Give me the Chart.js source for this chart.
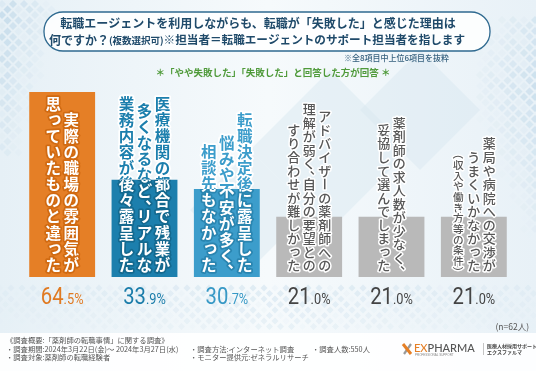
<!DOCTYPE html>
<html lang="ja">
<head>
<meta charset="utf-8">
<script src="https://cdn.jsdelivr.net/npm/chart.js@4/dist/chart.umd.min.js"></script>
<style>
html,body{margin:0;padding:0;background:#fff;overflow:hidden;}
#wrap{width:536px;height:371px;}
</style>
</head>
<body>
<div id="wrap"><canvas id="c" width="536" height="371"></canvas></div>
<script>
// ---- data ----
const categories = [
  ["実際の職場の雰囲気が", "思っていたものと違った"],
  ["医療機関の都合で残業が", "多くなるなど、リアルな", "業務内容が後々露呈した"],
  ["転職決定後に露呈した", "悩みや不安が多く、", "相談先もなかった"],
  ["アドバイザーの薬剤師への", "理解が弱く、自分の要望との", "すり合わせが難しかった"],
  ["薬剤師の求人数が少なく、", "妥協して選んでしまった"],
  ["薬局や病院への交渉が", "うまくいかなかった", "（収入や働き方等の条件）"]
];
const values = [64.5, 33.9, 30.7, 21.0, 21.0, 21.0];
const titleLine1 = "転職エージェントを利用しながらも、転職が「失敗した」と感じた理由は";
const titleLine2a = "何ですか？";
const titleLine2b = "(複数選択可)";
const titleLine2c = "※担当者＝転職エージェントのサポート担当者を指します";
const noteText = "※全8項目中上位6項目を抜粋";
const subText = "＊「やや失敗した」「失敗した」と回答した方が回答 ＊";
const nText = "(n=62人)";
const footerCol1 = ["《調査概要:「薬剤師の転職事情」に関する調査》", "・調査期間:2024年3月22日(金)～ 2024年3月27日(水)", "・調査対象:薬剤師の転職経験者"];
const footerCol2 = ["・調査方法:インターネット調査", "・モニター提供元:ゼネラルリサーチ"];
const footerCol3 = ["・調査人数:550人"];

// ---- styles ----
const barColors = ["#E57F26", "#1C7FAD", "#3C9DCB", "#B9B9B9", "#B9B9B9", "#B9B9B9"];
const outlineColors = ["#D06A12", "#14698F", "#2A85B0", null, null, null];
const pctColors = ["#E07A22", "#1C7DAA", "#3899C6", "#444444", "#444444", "#444444"];
const labelSizes = [15.5, 15.5, 15.5, 13, 13, 13];

const JP = '"Noto Sans CJK JP", "Noto Sans", sans-serif';
const ROT = new Set(['ー', '（', '）', '～', '〜', '－']);
const HALF = new Set(['、', '。', '（', '）']);
const SMALL = new Set('っゃゅょぁぃぅぇぉッャュョァィゥェォ'.split(''));
const PUNCT = new Set(['、', '。']);

function colHeight(str, pitch) {
  let h = 0;
  for (const ch of str) h += HALF.has(ch) ? pitch * 0.55 : pitch;
  return h;
}
function drawColumn(ctx, str, x, yBottom, fs, pitch) {
  let y = yBottom - colHeight(str, pitch);
  for (const ch of str) {
    const ch_h = HALF.has(ch) ? pitch * 0.55 : pitch;
    const cy = y + ch_h / 2;
    ctx.save();
    ctx.translate(x, cy);
    if (ROT.has(ch)) {
      if (ch === '（') ctx.translate(0, -0.25 * fs);
      if (ch === '）') ctx.translate(0, 0.25 * fs);
      ctx.rotate(Math.PI / 2);
    } else if (PUNCT.has(ch)) {
      ctx.translate(0.55 * fs, -0.4 * fs);
    } else if (SMALL.has(ch)) {
      ctx.translate(0.1 * fs, -0.1 * fs);
    }
    ctx.strokeText(ch, 0, 0);
    ctx.fillText(ch, 0, 0);
    ctx.restore();
    y += ch_h;
  }
}
function drawLabelBlock(ctx, cols, cx, yBottom, fs) {
  const n = cols.length;
  const sp = fs + 2.5;
  cols.forEach((s, k) => {
    const x = cx + ((n - 1) / 2 - k) * sp;
    const small = s.startsWith('（');
    const f = small ? fs * 0.82 : fs;
    ctx.font = (small ? '500 ' : (fs > 14 ? '700 ' : '500 ')) + f + 'px ' + JP;
    drawColumn(ctx, s, x, yBottom, f, small ? f * 1.0 : f * 1.04);
  });
}
function roundRect(ctx, x, y, w, h, r) {
  ctx.beginPath();
  ctx.moveTo(x + r, y);
  ctx.lineTo(x + w - r, y);
  ctx.arc(x + w - r, y + r, r, -Math.PI / 2, 0);
  ctx.lineTo(x + w, y + h - r);
  ctx.arc(x + w - r, y + h - r, r, 0, Math.PI / 2);
  ctx.lineTo(x + r, y + h);
  ctx.arc(x + r, y + h - r, r, Math.PI / 2, Math.PI);
  ctx.lineTo(x, y + r);
  ctx.arc(x + r, y + r, r, Math.PI, Math.PI * 1.5);
  ctx.closePath();
}
function diamonds(ctx, x0, y0, cols, rows, step, size, alphaFn) {
  for (let i = 0; i < cols; i++) for (let j = 0; j < rows; j++) {
    const a = alphaFn(i, j);
    if (a <= 0) continue;
    const x = x0 + i * step + (j % 2 ? step / 2 : 0), y = y0 + j * step / 2;
    ctx.fillStyle = 'rgba(190,215,232,' + a + ')';
    ctx.beginPath();
    ctx.moveTo(x, y - size); ctx.lineTo(x + size, y); ctx.lineTo(x, y + size); ctx.lineTo(x - size, y);
    ctx.closePath(); ctx.fill();
  }
}

const decoPlugin = {
  id: 'deco',
  beforeDraw(chart) {
    const ctx = chart.ctx, W = chart.width, H = chart.height;
    ctx.save();
    const g = ctx.createLinearGradient(0, 0, W, 0);
    g.addColorStop(0, '#e6f0f6'); g.addColorStop(0.5, '#f6fafc'); g.addColorStop(1, '#e8f1f7');
    ctx.fillStyle = g; ctx.fillRect(0, 0, W, H);
    ctx.fillStyle = 'rgba(215,230,240,0.45)';
    [[330, 150, 80], [250, 210, 60], [420, 110, 60]].forEach(([x, y, s]) => {
      ctx.beginPath(); ctx.moveTo(x, y - s); ctx.lineTo(x + s, y); ctx.lineTo(x, y + s); ctx.lineTo(x - s, y); ctx.closePath(); ctx.fill();
    });
    diamonds(ctx, 2, 4, 5, 28, 11, 4, (i, j) => Math.max(0, 0.75 - i * 0.15 - j * 0.02) * (((i * 3 + j * 5) % 4) ? 1 : 0.3));
    diamonds(ctx, 480, 20, 6, 40, 11, 4, (i, j) => Math.max(0, 0.15 + i * 0.1 - Math.abs(j - 12) * 0.02) * (((i * 5 + j * 3) % 4) ? 1 : 0.3));
    diamonds(ctx, 0, 288, 50, 8, 11, 3.5, (i, j) => Math.max(0, 0.5 - Math.abs(i - 25) * 0.012 - j * 0.03) * (((i * 7 + j * 3) % 5) ? 0.8 : 0.2));
    ctx.fillStyle = 'rgba(255,255,255,0.9)';
    ctx.fillRect(0, 333, W, H - 333);
    ctx.restore();
  },
  afterDatasetsDraw(chart) {
    const ctx = chart.ctx, W = chart.width;
    const meta = chart.getDatasetMeta(0);
    const area = chart.chartArea;
    ctx.save();
    ctx.textAlign = 'center';
    ctx.textBaseline = 'middle';
    ctx.lineJoin = 'round';
    meta.data.forEach((bar, i) => {
      const p = bar.getProps(['x', 'y', 'base', 'width'], true);
      const fs = labelSizes[i];
      const yB = area.bottom - (fs > 14 ? 4 : 5);
      const bx = p.x - p.width / 2, bw = p.width, by = p.y, bh = p.base - p.y;
      if (outlineColors[i]) {
        ctx.save();
        ctx.beginPath(); ctx.rect(0, 0, W, chart.height); ctx.rect(bx, by, bw, bh);
        ctx.clip('evenodd');
        ctx.fillStyle = barColors[i]; ctx.strokeStyle = '#ffffff'; ctx.lineWidth = 3.5;
        drawLabelBlock(ctx, categories[i], p.x, yB, fs);
        ctx.restore();
        ctx.save();
        ctx.beginPath(); ctx.rect(bx, by, bw, bh); ctx.clip();
        ctx.fillStyle = '#ffffff'; ctx.strokeStyle = outlineColors[i]; ctx.lineWidth = 3.5;
        drawLabelBlock(ctx, categories[i], p.x, yB, fs);
        ctx.restore();
      } else {
        ctx.fillStyle = '#575757'; ctx.strokeStyle = '#ffffff'; ctx.lineWidth = 3;
        drawLabelBlock(ctx, categories[i], p.x, yB, fs);
      }
      // percentage
      const s = values[i].toFixed(1);
      const intPart = s.split('.')[0], decPart = '.' + s.split('.')[1] + '%';
      ctx.save();
      ctx.textAlign = 'left'; ctx.textBaseline = 'alphabetic';
      const sx = 0.88;
      const fBig = '400 23px Roboto, "Liberation Sans", sans-serif';
      const fSm = '400 14.5px Roboto, "Liberation Sans", sans-serif';
      ctx.font = fBig; const w1 = ctx.measureText(intPart).width * sx;
      ctx.font = fSm; const w2 = ctx.measureText(decPart).width * sx;
      const x0 = p.x - (w1 + w2) / 2, base = 304;
      ctx.fillStyle = pctColors[i];
      ctx.translate(x0, base);
      ctx.scale(sx, 1);
      ctx.font = fBig; ctx.fillText(intPart, 0, 0);
      ctx.font = fSm; ctx.fillText(decPart, w1 / sx, 0);
      ctx.restore();
    });
    ctx.restore();
  },
  afterDraw(chart) {
    const ctx = chart.ctx;
    ctx.save();
    roundRect(ctx, 44, 12, 446, 39, 19);
    ctx.fillStyle = 'rgba(255,255,255,0.85)'; ctx.fill();
    ctx.strokeStyle = '#2f6a90'; ctx.lineWidth = 1.3; ctx.stroke();
    ctx.fillStyle = '#1f4a6a';
    ctx.textBaseline = 'middle';
    ctx.textAlign = 'center';
    ctx.font = '700 12px ' + JP;
    ctx.fillText(titleLine1, 258, 23);
    const f2a = '700 12px ' + JP, f2b = '700 9.5px ' + JP, f2c = '700 11.6px ' + JP;
    ctx.font = f2a; const wa = ctx.measureText(titleLine2a).width;
    ctx.font = f2b; const wb = ctx.measureText(titleLine2b).width;
    ctx.font = f2c; const wc = ctx.measureText(titleLine2c).width;
    let x = 257 - (wa + wb + wc) / 2;
    ctx.textAlign = 'left';
    ctx.font = f2a; ctx.fillText(titleLine2a, x, 40); x += wa;
    ctx.font = f2b; ctx.fillText(titleLine2b, x, 40.5); x += wb;
    ctx.font = f2c; ctx.fillText(titleLine2c, x, 40);
    ctx.textAlign = 'right';
    ctx.fillStyle = '#35607e';
    ctx.font = '500 8px ' + JP;
    ctx.fillText(noteText, 449, 58);
    ctx.textAlign = 'center';
    ctx.fillStyle = '#4f9a3a';
    ctx.font = '700 9.5px ' + JP;
    ctx.fillText(subText, 273, 72);
    ctx.textAlign = 'right';
    ctx.fillStyle = '#555';
    ctx.font = '400 8.5px ' + JP;
    ctx.fillText(nText, 529, 327);
    ctx.textAlign = 'left';
    ctx.fillStyle = '#555';
    ctx.font = '400 7.3px ' + JP;
    footerCol1.forEach((t, k) => ctx.fillText(t, 6, 340.5 + k * 8.3));
    footerCol2.forEach((t, k) => ctx.fillText(t, 190, 348.8 + k * 8.3));
    footerCol3.forEach((t, k) => ctx.fillText(t, 312, 348.8 + k * 8.3));
    ctx.lineCap = 'butt';
    ctx.strokeStyle = '#9a9a9a'; ctx.lineWidth = 2.2;
    ctx.beginPath(); ctx.moveTo(411, 344); ctx.lineTo(404, 354); ctx.stroke();
    ctx.strokeStyle = '#E57F26'; ctx.lineWidth = 3;
    ctx.beginPath(); ctx.moveTo(403, 344); ctx.lineTo(411, 354); ctx.stroke();
    ctx.font = '500 11px Lato, "Liberation Sans", sans-serif';
    ctx.textBaseline = 'alphabetic';
    ctx.fillStyle = '#E57F26'; ctx.fillText('EX', 414, 352);
    const wEX = ctx.measureText('EX').width;
    ctx.fillStyle = '#555'; ctx.fillText('PHARMA', 414 + wEX, 352);
    ctx.font = '400 3px "Liberation Sans", sans-serif';
    ctx.fillStyle = '#888'; ctx.fillText('PROFESSIONAL SUPPORT', 415, 356);
    ctx.strokeStyle = '#aaa'; ctx.lineWidth = 0.7;
    ctx.beginPath(); ctx.moveTo(483.5, 343); ctx.lineTo(483.5, 355); ctx.stroke();
    ctx.fillStyle = '#444';
    ctx.font = '700 5px ' + JP;
    ctx.fillText('医療人材採用サポート', 487, 348);
    ctx.fillText('エクスファルマ', 487, 354);
    ctx.restore();
  }
};

function build() {
  new Chart(document.getElementById('c'), {
    type: 'bar',
    data: {
      labels: categories.map(c => c.join('')),
      datasets: [{
        data: values,
        backgroundColor: barColors,
        borderWidth: 0,
        barPercentage: 0.8,
        categoryPercentage: 1.0
      }]
    },
    options: {
      responsive: false,
      devicePixelRatio: 1,
      animation: false,
      layout: { padding: { top: 92, bottom: 94, left: 21, right: 21 } },
      scales: {
        x: { display: false },
        y: { display: false, min: 0, max: 64.5 }
      },
      plugins: { legend: { display: false }, tooltip: { enabled: false }, title: { display: false } }
    },
    plugins: [decoPlugin]
  });
}
Promise.all([
  document.fonts.load('700 16px "Noto Sans CJK JP"'),
  document.fonts.load('500 16px "Noto Sans CJK JP"'),
  document.fonts.load('400 16px "Noto Sans CJK JP"'),
  document.fonts.load('400 22px Roboto'),
  document.fonts.load('500 11px Lato')
]).catch(() => {}).then(build);
</script>
</body>
</html>
